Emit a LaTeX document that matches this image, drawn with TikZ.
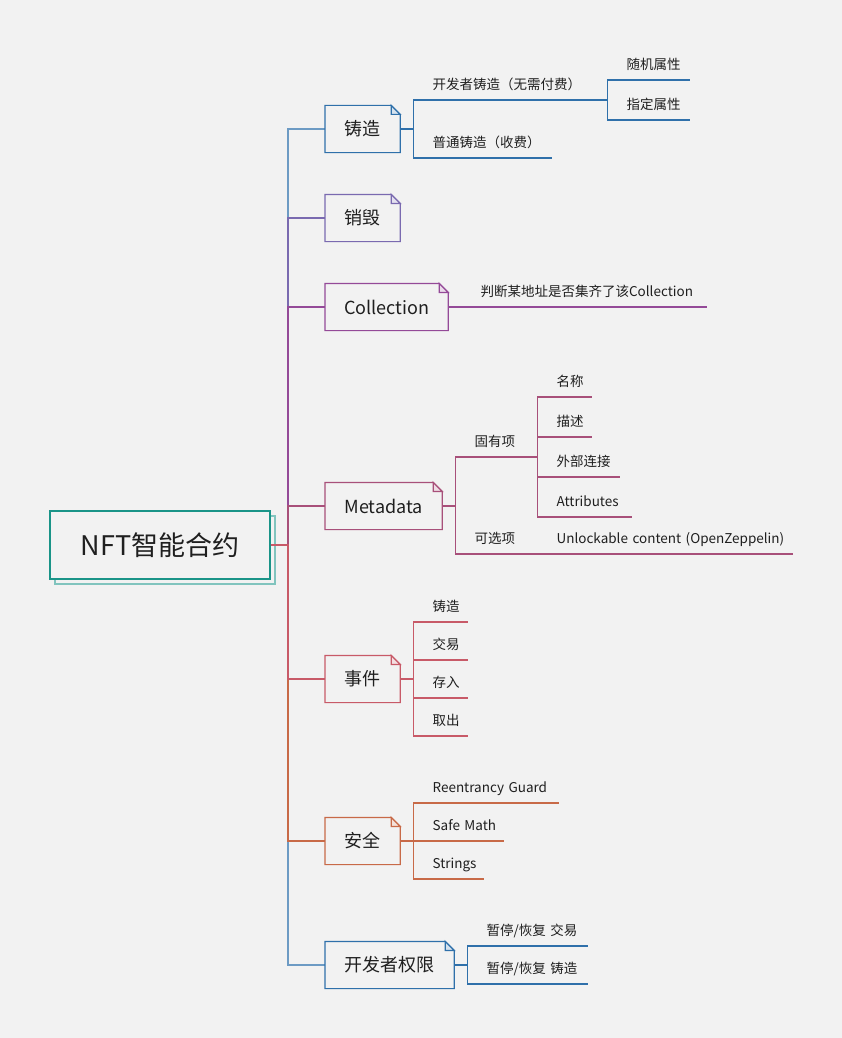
\documentclass[tikz,border=0pt]{standalone}
\usepackage{fontspec}
\setmainfont{Noto Sans CJK SC}
\usetikzlibrary{shadows}
\definecolor{bgcol}{HTML}{F2F2F2}
\definecolor{rootcol}{HTML}{1A9488}
\definecolor{mintcol}{HTML}{2F70AA}
\definecolor{burncol}{HTML}{7A6AB0}
\definecolor{collcol}{HTML}{944A98}
\definecolor{metacol}{HTML}{A8507A}
\definecolor{evtcol}{HTML}{C85A68}
\definecolor{safecol}{HTML}{C86A48}
\definecolor{admincol}{HTML}{2F70AA}
\newcommand{\foldbox}[2]{%
  \draw[#2] (#1.south west) -- (#1.north west) -- ([xshift=-9pt]#1.north east)
    -- ([yshift=-9pt]#1.north east) -- (#1.south east) -- cycle;
  \draw[#2, fill=#2!20] ([xshift=-9pt]#1.north east) |- ([yshift=-9pt]#1.north east) -- cycle;}

\begin{document}
\begin{tikzpicture}[x=1pt,y=-1pt,line width=1.2pt,text=black!88,
    root/.style={draw=rootcol, fill=bgcol, minimum width=220pt, minimum height=68pt,
      font=\fontsize{27}{32}\selectfont,
      copy shadow={draw=rootcol!55, fill=bgcol, shadow xshift=5pt, shadow yshift=-5pt}},
    topic/.style={anchor=west, minimum width=74pt, minimum height=46pt, inner xsep=10pt,
      font=\fontsize{18}{22}\selectfont},
    leaf/.style={anchor=south west, inner xsep=0pt, inner ysep=7pt, text height=10pt,
      text depth=3pt, align=left, font=\fontsize{13.5}{16}\selectfont}]
  \useasboundingbox[fill=bgcol] (0,0) rectangle (842,1038);

  \node[root] (root) at (160,545) {NFT智能合约};
  \coordinate (spine) at (288,545);

  \node[topic] (mint) at (325,129) {铸造};
  \node[topic] (burn) at (325,218) {销毁};
  \node[topic, minimum width=122pt] (coll) at (325,307) {Collection};
  \node[topic, minimum width=116pt] (meta) at (325,506) {Metadata};
  \node[topic] (evt) at (325,679) {事件};
  \node[topic] (safe) at (325,841) {安全};
  \node[topic, minimum width=128pt] (admin) at (325,965) {开发者权限};

  % spine, outer branches first
  \draw[mintcol!70] (root.east) -- (spine) |- (mint.west);
  \draw[burncol] (root.east) -- (spine) |- (burn.west);
  \draw[collcol] (root.east) -- (spine) |- (coll.west);
  \draw[metacol] (root.east) -- (spine) |- (meta.west);
  \draw[admincol!70] (root.east) -- (spine) |- (admin.west);
  \draw[safecol] (root.east) -- (spine) |- (safe.west);
  \draw[evtcol] (root.east) -- (spine) |- (evt.west);

  \foreach \n/\c in {mint/mintcol,burn/burncol,coll/collcol,meta/metacol,evt/evtcol,safe/safecol,admin/admincol}
    \foldbox{\n}{\c};

  % mint
  \node[leaf, text width=174pt] (m1) at (432,100) {开发者铸造（无需付费）};
  \node[leaf, text width=119pt] (m2) at (432,158) {普通铸造（收费）};
  \node[leaf, text width=63pt] (m11) at (626,80) {随机属性};
  \node[leaf, text width=63pt] (m12) at (626,120) {指定属性};
  \draw[mintcol] (mint.east) -- ++(13,0) |- (m1.south east);
  \draw[mintcol] (mint.east) -- ++(13,0) |- (m2.south east);
  \draw[mintcol] (m1.south east) |- (m11.south east);
  \draw[mintcol] (m1.south east) |- (m12.south east);

  % collection
  \node[leaf, text width=226pt] (c1) at (480,307) {判断某地址是否集齐了该Collection};
  \draw[collcol] (coll.east) -- (c1.south east);

  % metadata
  \node[leaf, text width=62pt] (d1) at (474,457) {固有项};
  \node[leaf, text width=62pt] (d2) at (474,554) {可选项};
  \node[leaf, text width=35pt] (d11) at (556,397) {名称};
  \node[leaf, text width=35pt] (d12) at (556,437) {描述};
  \node[leaf, text width=63pt] (d13) at (556,477) {外部连接};
  \node[leaf, text width=75pt] (d14) at (556,517) {Attributes};
  \node[leaf, text width=236pt] (d21) at (556,554) {Unlockable content (OpenZeppelin)};
  \draw[metacol] (meta.east) -- ++(13,0) |- (d1.south east);
  \draw[metacol] (meta.east) -- ++(13,0) |- (d2.south east);
  \foreach \k in {d11,d12,d13,d14}
    \draw[metacol] (d1.south east) |- (\k.south east);
  \draw[metacol] (d2.south east) -- (d21.south east);

  % events
  \node[leaf, text width=35pt] (e1) at (432,622) {铸造};
  \node[leaf, text width=35pt] (e2) at (432,660) {交易};
  \node[leaf, text width=35pt] (e3) at (432,698) {存入};
  \node[leaf, text width=35pt] (e4) at (432,736) {取出};
  \foreach \k in {e1,e2,e3,e4}
    \draw[evtcol] (evt.east) -- ++(13,0) |- (\k.south east);

  % security
  \node[leaf, text width=126pt] (s1) at (432,803) {Reentrancy Guard};
  \node[leaf, text width=71pt] (s2) at (432,841) {Safe Math};
  \node[leaf, text width=51pt] (s3) at (432,879) {Strings};
  \foreach \k in {s1,s2,s3}
    \draw[safecol] (safe.east) -- ++(13,0) |- (\k.south east);

  % admin
  \node[leaf, text width=101pt] (p1) at (486,946) {暂停/恢复 交易};
  \node[leaf, text width=101pt] (p2) at (486,984) {暂停/恢复 铸造};
  \foreach \k in {p1,p2}
    \draw[admincol] (admin.east) -- ++(13,0) |- (\k.south east);
\end{tikzpicture}
\end{document}
